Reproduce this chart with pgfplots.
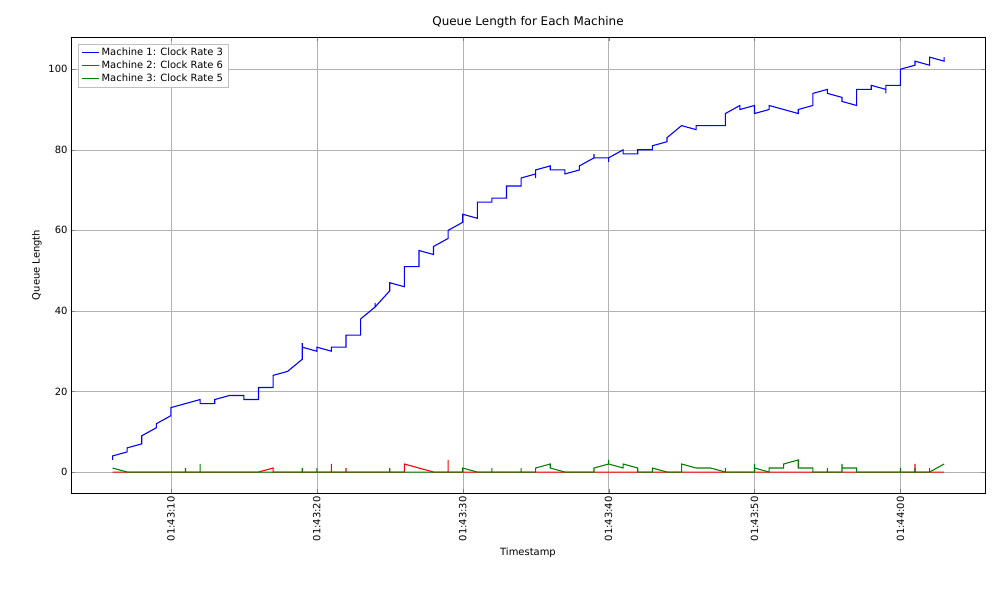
\documentclass[border=0pt]{standalone}
\usepackage{pgfplots}
\pgfplotsset{compat=1.18}
\usepackage{fontspec}
\setmainfont{DejaVu Sans}
\begin{document}
\begin{tikzpicture}
\useasboundingbox (-71bp,-107bp) rectangle (929bp,493bp);
\begin{axis}[scale only axis,width=914bp,height=456bp,
 at={(0,0)},anchor=south west,
 xmin=3.15,xmax=65.8,ymin=-5.2,ymax=108,
 xtick={10,20,30,40,50,60},
 xticklabels={01:43:10,01:43:20,01:43:30,01:43:40,01:43:50,01:44:00},
 xticklabel style={rotate=90,anchor=east},
 ytick={0,20,40,60,80,100},
 grid=major, grid style={gray!60},
 title={Queue Length for Each Machine},
 title style={font=\fontsize{12}{14}\selectfont},
 xlabel={Timestamp}, ylabel={Queue Length},
 tick label style={font=\fontsize{10}{12}\selectfont}, label style={font=\fontsize{10}{12}\selectfont},
 /pgf/number format/assume math mode=true,
 legend pos=north west, legend cell align=left,
 legend style={font=\fontsize{10}{12}\selectfont,draw=gray!50,at={(0.008,0.985)}}]
\addplot[color=blue,line width=1.1pt] coordinates {(6,3)(6,4)(7,5)(7,6)(8,7)(8,9)(9,11)(9,12)(10,14)(10,16)(12,18)(12,17)(13,17)(13,18)(14,19)(15,19)(15,18)(16,18)(16,21)(17,21)(17,24)(18,25)(19,28)(19,32)(19,31)(20,30)(20,31)(21,30)(21,31)(22,31)(22,34)(23,34)(23,38)(24,41)(24,42)(24,41)(25,45)(25,47)(26,46)(26,51)(27,51)(27,55)(28,54)(28,56)(29,58)(29,60)(30,62)(30,64)(31,63)(31,67)(32,67)(32,68)(33,68)(33,71)(34,71)(34,73)(35,74)(35,73)(35,75)(36,76)(36,75)(37,75)(37,74)(38,75)(38,76)(39,78)(39,79)(39,78)(40,78)(40,77)(40,78)(41,80)(41,79)(42,79)(42,80)(43,80)(43,81)(44,82)(44,83)(45,86)(46,85)(46,86)(47,86)(48,86)(48,89)(49,91)(49,90)(50,91)(50,89)(51,90)(51,91)(53,89)(53,90)(54,91)(54,94)(55,95)(55,94)(56,93)(56,92)(57,91)(57,95)(58,95)(58,96)(59,95)(59,94)(59,96)(60,96)(60,100)(61,101)(61,102)(62,101)(62,103)(63,102)(63,103)};
\addlegendentry{Machine 1: Clock Rate 3}
\addplot[color=red,line width=1.1pt] coordinates {(6,0)(16,0)(17,1)(17,0)(21,0)(21,2)(21,0)(22,0)(22,1)(22,0)(26,0)(26,2)(28,0)(29,0)(29,3)(29,0)(61,0)(61,2)(61,0)(62,0)(62,1)(62,0)(63,0)};
\addlegendentry{Machine 2: Clock Rate 6}
\addplot[color=green!50!black,line width=1.1pt] coordinates {(6,1)(7,0)(11,0)(11,1)(11,0)(12,0)(12,2)(12,0)(19,0)(19,1)(19,0)(20,0)(20,1)(20,0)(25,0)(25,1)(25,0)(30,0)(30,1)(31,0)(32,0)(32,1)(32,0)(34,0)(34,1)(34,0)(35,0)(35,1)(36,2)(36,1)(37,0)(39,0)(39,1)(40,2)(40,3)(40,2)(41,1)(41,2)(42,1)(42,0)(43,0)(43,1)(44,0)(45,0)(45,2)(46,1)(47,1)(48,0)(48,1)(48,0)(50,0)(50,2)(50,1)(51,0)(51,1)(52,1)(52,2)(53,3)(53,1)(54,1)(54,0)(55,0)(55,1)(55,0)(56,0)(56,2)(56,1)(57,1)(57,0)(60,0)(60,1)(60,0)(61,0)(61,1)(61,0)(62,0)(63,2)};
\addlegendentry{Machine 3: Clock Rate 5}
\end{axis}
\end{tikzpicture}
\end{document}
